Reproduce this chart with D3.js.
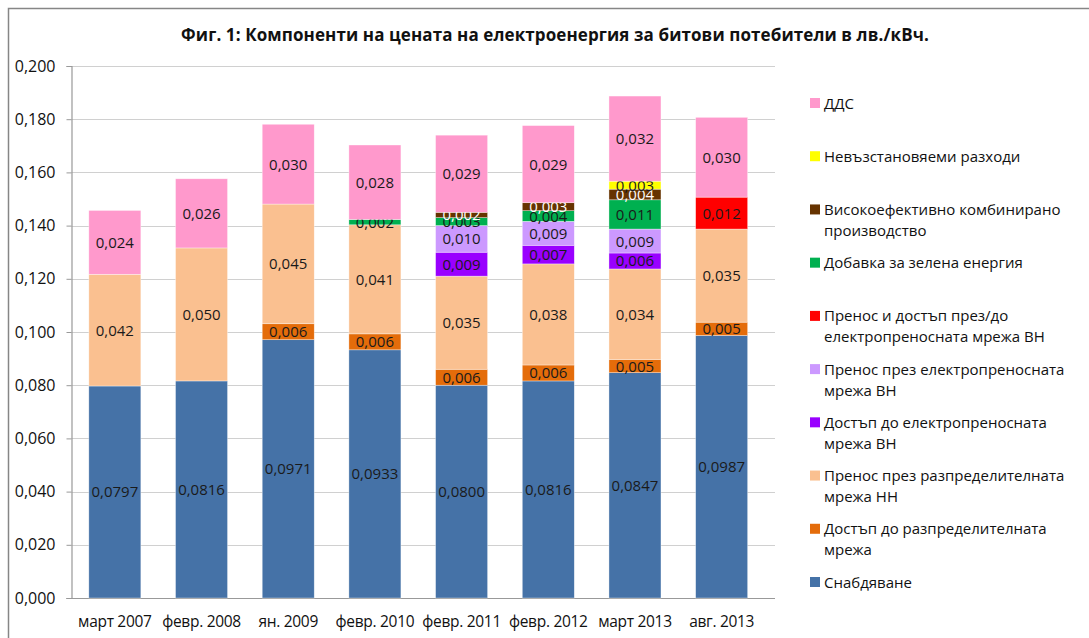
<!DOCTYPE html>
<html lang="bg">
<head>
    <meta charset="UTF-8">
    <script src="https://d3js.org/d3.v7.min.js"></script>
    <title>Фиг. 1</title>
    <style>
        html, body {
            margin: 0;
            padding: 0;
            background: #fff;
            font-family: "Open Sans", sans-serif;
        }
    </style>
</head>
<body>
<div id="chart"></div>
<script>
    const months = ['март 2007', 'февр. 2008', 'ян. 2009', 'февр. 2010', 'февр. 2011', 'февр. 2012', 'март 2013', 'авг. 2013'];

    // series, from the bottom of the stack to the top
    const seriesNames = [
        'Снабдяване',
        'Достъп до разпределителната мрежа',
        'Пренос през разпределителната мрежа НН',
        'Достъп до електропреносната мрежа ВН',
        'Пренос през електропреносната мрежа ВН',
        'Пренос и достъп през/до електропреносната мрежа ВН',
        'Добавка за зелена енергия',
        'Високоефективно комбинирано производство',
        'Невъзстановяеми разходи',
        'ДДС'
    ];
    const legendLines = [
        ['Снабдяване'],
        ['Достъп до разпределителната', 'мрежа'],
        ['Пренос през разпределителната', 'мрежа НН'],
        ['Достъп до електропреносната', 'мрежа ВН'],
        ['Пренос през електропреносната', 'мрежа ВН'],
        ['Пренос и достъп през/до', 'електропреносната мрежа ВН'],
        ['Добавка за зелена енергия'],
        ['Високоефективно комбинирано', 'производство'],
        ['Невъзстановяеми разходи'],
        ['ДДС']
    ];
    const colors = ['#4572a7', '#e46c0a', '#fac090', '#9900ff', '#cc99ff', '#ff0000', '#00b050', '#663300', '#ffff00', '#ff99cc'];

    const supply      = [0.0797, 0.0816, 0.0971, 0.0933, 0.0800, 0.0816, 0.0847, 0.0987];
    const distAccess  = [0, 0, 0.006, 0.006, 0.006, 0.006, 0.005, 0.005];
    const distTrans   = [0.042, 0.050, 0.045, 0.041, 0.035, 0.038, 0.034, 0.035];
    const hvAccess    = [0, 0, 0, 0, 0.009, 0.007, 0.006, 0];
    const hvTrans     = [0, 0, 0, 0, 0.010, 0.009, 0.009, 0];
    const hvBoth      = [0, 0, 0, 0, 0, 0, 0, 0.012];
    const green       = [0, 0, 0, 0.002, 0.003, 0.004, 0.011, 0];
    const chp         = [0, 0, 0, 0, 0.002, 0.003, 0.004, 0];
    const stranded    = [0, 0, 0, 0, 0, 0, 0.003, 0];
    const vat         = [0.024, 0.026, 0.030, 0.028, 0.029, 0.029, 0.032, 0.030];

    const seriesValues = [supply, distAccess, distTrans, hvAccess, hvTrans, hvBoth, green, chp, stranded, vat];
    const yTicks = [0, 0.02, 0.04, 0.06, 0.08, 0.10, 0.12, 0.14, 0.16, 0.18, 0.20];

    const width = 1089, height = 638;
    const plot = {left: 71.5, right: 765, top: 66, bottom: 598};

    const svg = d3.select('#chart').append('svg')
        .attr('width', width).attr('height', height);

    // chart border (only top/left visible in frame)
    svg.append('rect')
        .attr('x', 8.5).attr('y', 8.5)
        .attr('width', 1200).attr('height', 800)
        .attr('fill', 'none').attr('stroke', '#868686').attr('stroke-width', 1.5);

    svg.append('text')
        .attr('x', 555).attr('y', 41)
        .attr('text-anchor', 'middle')
        .attr('font-size', 17).attr('font-weight', 'bold')
        .attr('fill', '#111')
        .attr('letter-spacing', 0.1)
        .text('Фиг. 1: Компоненти на цената на електроенергия за битови потебители в лв./кВч.');

    const x = d3.scaleBand().domain(months).range([plot.left, plot.right]).paddingInner(0.4).paddingOuter(0.2);
    const y = d3.scaleLinear().domain([0, 0.2]).range([plot.bottom, plot.top]);

    // grid
    svg.append('g').selectAll('line')
        .data(yTicks.slice(1))
        .join('line')
        .attr('x1', plot.left).attr('x2', 775)
        .attr('y1', d => Math.round(y(d)) + 0.5).attr('y2', d => Math.round(y(d)) + 0.5)
        .attr('stroke', '#d0d0d0').attr('stroke-width', 1.2);

    const yAxis = svg.append('g')
        .attr('transform', `translate(${plot.left},0)`)
        .call(d3.axisLeft(y).tickValues(yTicks).tickSize(5).tickPadding(11)
            .tickFormat(d => d3.format('.3f')(d).replace('.', ',')));
    yAxis.select('.domain').attr('stroke', '#999').attr('stroke-width', 1.2);
    yAxis.selectAll('.tick line').attr('stroke', '#999');
    yAxis.selectAll('text').attr('font-size', 16).attr('fill', '#111')
        .attr('font-family', '"Open Sans", sans-serif');

    // bottom axis line
    svg.append('line')
        .attr('x1', plot.left - 5).attr('x2', 775)
        .attr('y1', plot.bottom + 0.5).attr('y2', plot.bottom + 0.5)
        .attr('stroke', '#999').attr('stroke-width', 1.2);

    svg.append('g').selectAll('text')
        .data(months)
        .join('text')
        .attr('x', d => x(d) + x.bandwidth() / 2)
        .attr('y', 627)
        .attr('text-anchor', 'middle')
        .attr('font-size', 15.5).attr('fill', '#111')
        .attr('letter-spacing', -0.3)
        .text(d => d);

    // stacked bars
    const table = months.map((m, i) => {
        const row = {month: m};
        seriesNames.forEach((s, j) => row[s] = seriesValues[j][i]);
        return row;
    });
    const stacked = d3.stack().keys(seriesNames)(table);

    const layers = svg.append('g').selectAll('g')
        .data(stacked)
        .join('g')
        .attr('fill', (d, i) => colors[i]);

    layers.selectAll('rect')
        .data(d => d.filter(p => p[1] - p[0] > 0))
        .join('rect')
        .attr('x', d => x(d.data.month))
        .attr('width', x.bandwidth())
        .attr('y', d => y(d[1]))
        .attr('height', d => y(d[0]) - y(d[1]))
        .attr('stroke', 'rgba(255,255,255,0.6)').attr('stroke-width', 0.6);

    const fmtLabel = v => (v >= 0.05 ? d3.format('.4f')(v) : d3.format('.3f')(v)).replace('.', ',');

    layers.each(function (layer, i) {
        d3.select(this).selectAll('text')
            .data(layer.filter(p => p[1] - p[0] > 0))
            .join('text')
            .attr('x', d => x(d.data.month) + x.bandwidth() / 2)
            .attr('y', d => (y(d[0]) + y(d[1])) / 2 + 5.5)
            .attr('text-anchor', 'middle')
            .attr('font-size', 15)
            .attr('fill', seriesNames[i] === 'Високоефективно комбинирано производство' ? '#fff' : '#1a1a1a')
            .text(d => fmtLabel(d[1] - d[0]));
    });

    // legend, top entry = last series
    const legendY = d3.scalePoint().domain(d3.range(10)).range([103, 582]);
    const legend = svg.append('g').selectAll('g')
        .data(d3.range(9, -1, -1))
        .join('g')
        .attr('transform', (d, k) => `translate(810,${legendY(k)})`);
    legend.append('rect')
        .attr('x', 0).attr('y', -5).attr('width', 10).attr('height', 10)
        .attr('fill', d => colors[d]);
    legend.append('text')
        .attr('x', 14).attr('y', 5.5)
        .attr('font-size', 15).attr('fill', '#111')
        .selectAll('tspan')
        .data(d => legendLines[d])
        .join('tspan')
        .attr('x', 14)
        .attr('dy', (d, k) => k === 0 ? 0 : 21)
        .text(d => d);
</script>
</body>
</html>
